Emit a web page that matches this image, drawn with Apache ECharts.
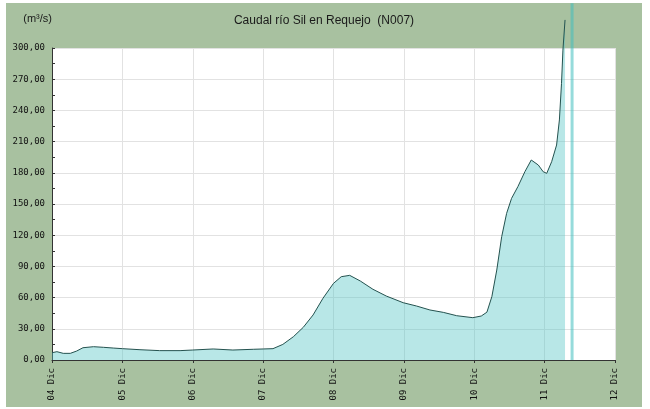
<!DOCTYPE html>
<html style="height: 100%">
   <head>
       <meta charset="utf-8">
   </head>
   <body style="height: 100%; margin: 0; background: #ffffff">
       <div id="container" style="position: absolute; left: 6px; top: 3px; width: 636px; height: 404px"></div>
       <script type="text/javascript" src="https://cdn.jsdelivr.net/npm/echarts/dist/echarts.min.js"></script>
       <script type="text/javascript">
// time in days of December, flow in m3/s
var days = [4.0, 4.07, 4.16, 4.26, 4.35, 4.44, 4.59, 4.73, 4.87, 5.0, 5.25, 5.53, 5.82, 6.0, 6.29, 6.57, 6.86,
            7.0, 7.14, 7.28, 7.43, 7.57, 7.71, 7.85, 8.0, 8.11, 8.23, 8.38, 8.56, 8.75, 8.99, 9.18, 9.37, 9.56, 9.75,
            9.98, 10.1, 10.18, 10.25, 10.32, 10.39, 10.46, 10.53, 10.62, 10.72, 10.81, 10.91, 10.98, 11.03, 11.1,
            11.17, 11.21, 11.24, 11.26, 11.29];
var caudal = [7, 8, 6.4, 6.4, 8.6, 11.8, 12.8, 12.2, 11.5, 10.9, 9.9, 9, 9, 9.6, 10.6, 9.6, 10.3,
              10.6, 10.9, 15, 22.4, 31.4, 43.3, 59.3, 73.7, 80.1, 81.4, 76, 68, 61.5, 55.1, 51.9, 48.1, 45.8, 42.6,
              40.7, 42.3, 46, 60.9, 86.5, 118.6, 141, 155.4, 166.7, 181.1, 192.3, 187.5, 181, 179.5, 190.7,
              206.7, 230.8, 266, 298, 327];
// current time marker, from the bottom of the plot to the top of the frame
var ahora = 11.39;
var ahoraTop = 343;
var xMin = 4, xMax = 12;
var yMax = 300, yStep = 30;

var dom = document.getElementById("container");
var myChart = echarts.init(dom);

var serie = [];
for (var i = 0; i < days.length; i++) {
    serie.push([days[i], caudal[i]]);
}

var option = {
    backgroundColor: '#a8c1a0',
    animation: false,
    title: {
        text: 'Caudal río Sil en Requejo  (N007)',
        left: 'center',
        top: 7,
        textStyle: {fontFamily: 'Liberation Sans', fontSize: 12, fontWeight: 'normal', color: '#1a1a1a'}
    },
    grid: {
        left: 46,
        right: 27,
        top: 45,
        bottom: 47,
        show: true,
        backgroundColor: '#ffffff',
        borderWidth: 0
    },
    xAxis: {
        type: 'value',
        min: xMin,
        max: xMax,
        interval: 1,
        axisLine: {lineStyle: {color: '#333', width: 1}},
        axisTick: {show: true, length: 3, lineStyle: {color: '#333'}},
        splitLine: {show: true, lineStyle: {color: '#e2e2e2', width: 1}},
        axisLabel: {
            rotate: 90,
            margin: 8,
            fontFamily: 'DejaVu Sans Mono',
            fontSize: 9,
            color: '#111',
            formatter: function (v) { return (v < 10 ? '0' : '') + v + ' Dic'; }
        }
    },
    yAxis: {
        type: 'value',
        min: 0,
        max: yMax,
        interval: yStep,
        name: '(m³/s)',
        nameLocation: 'end',
        nameGap: 24,
        nameTextStyle: {fontFamily: 'Liberation Sans', fontSize: 11, color: '#1a1a1a', align: 'right'},
        axisLine: {show: true, lineStyle: {color: '#333', width: 1}},
        axisTick: {show: true, inside: true, length: 3, lineStyle: {color: '#333'}},
        minorTick: {show: true, splitNumber: 2, length: 3, lineStyle: {color: '#333'}},
        splitLine: {show: true, lineStyle: {color: '#e2e2e2', width: 1}},
        axisLabel: {
            margin: 7,
            fontFamily: 'DejaVu Sans Mono',
            fontSize: 9,
            color: '#111',
            formatter: function (v) { return v.toFixed(2).replace('.', ','); }
        }
    },
    series: [
        {
            type: 'line',
            data: serie,
            showSymbol: false,
            clip: false,
            z: 3,
            lineStyle: {color: '#24524f', width: 1},
            areaStyle: {color: 'rgba(80,195,195,0.58)'}
        },
        {
            type: 'line',
            data: [[ahora, 0], [ahora, ahoraTop]],
            showSymbol: false,
            clip: false,
            silent: true,
            z: 2,
            lineStyle: {color: 'rgba(64,190,190,0.55)', width: 3}
        }
    ]
};

myChart.setOption(option, true);
       </script>
   </body>
</html>
